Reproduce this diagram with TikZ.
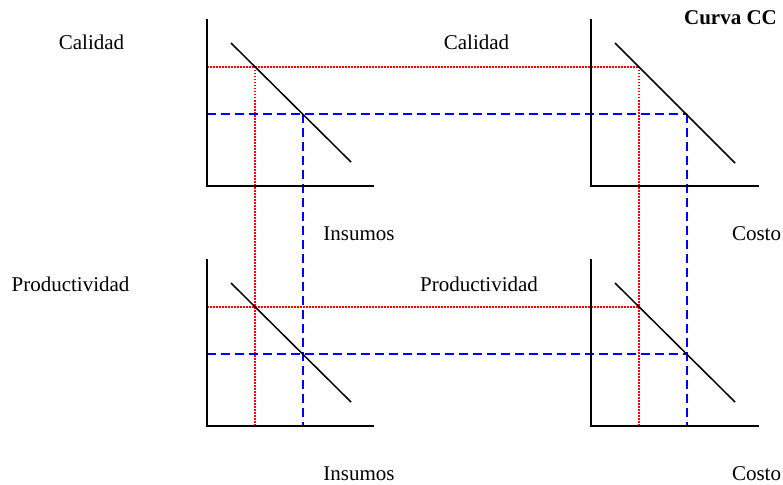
\documentclass[tikz,border=0pt]{standalone}
\usepackage{fontspec}
\setmainfont{Liberation Serif}
\begin{document}
\begin{tikzpicture}[x=1pt,y=-1pt,
  axis/.style={line width=2pt},
  curve/.style={line width=1.5pt},
  redline/.style={red,line width=1.5pt,dash pattern=on 1.5pt off 1.5pt},
  blueline/.style={blue,line width=1.8pt,dash pattern=on 9pt off 5pt},
  lbl/.style={inner sep=0pt,font=\fontsize{21}{25}\selectfont}]
\useasboundingbox (0,0) rectangle (783,484);
% guide lines (under the curves)
\draw[redline] (207,67) -- (639,67);
\draw[redline] (207,307) -- (639,307);
\draw[redline] (255,67) -- (255,425);
\draw[redline] (639,67) -- (639,425);
\draw[blueline] (207,114) -- (687,114);
\draw[blueline] (207,354) -- (687,354);
\draw[blueline] (303,114) -- (303,425);
\draw[blueline] (687,114) -- (687,425);
% axes
\draw[axis] (207,19) -- (207,186) -- (374,186);
\draw[axis] (591,19) -- (591,186) -- (759,186);
\draw[axis] (207,259) -- (207,426) -- (374,426);
\draw[axis] (591,259) -- (591,426) -- (759,426);
% curves
\draw[curve] (231,43) -- (351,162);
\draw[curve] (615,43) -- (735,163);
\draw[curve] (231,283) -- (351,402);
\draw[curve] (615,283) -- (735,402);
% labels
\node[lbl] (cal1) at (91.5,42) {Calidad};
\node[lbl] (cal2) at (476.5,42) {Calidad};
\node[lbl,font=\fontsize{21}{25}\selectfont\bfseries] (cc) at (730.5,18) {Curva CC};
\node[lbl] (ins1) at (359,234) {Insumos};
\node[lbl] (cos1) at (756.5,234) {Costo};
\node[lbl] (pro1) at (70.5,284) {Productividad};
\node[lbl] (pro2) at (479,284) {Productividad};
\node[lbl] (ins2) at (359,474) {Insumos};
\node[lbl] (cos2) at (756.5,474) {Costo};
\end{tikzpicture}
\end{document}
